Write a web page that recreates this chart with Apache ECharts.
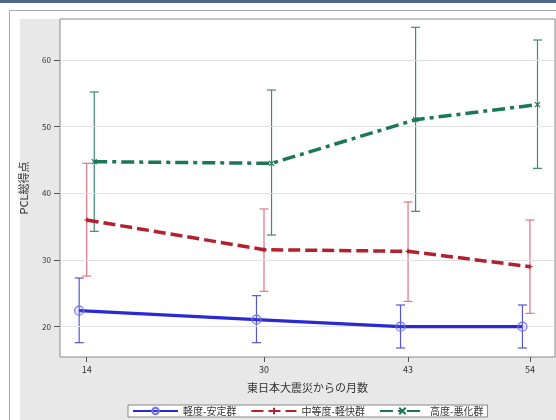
<!DOCTYPE html>
<html><head><meta charset="utf-8">
<script src="https://cdn.jsdelivr.net/npm/echarts@6/dist/echarts.min.js"></script>
<style>html,body{margin:0;padding:0;background:#fff}#c{width:556px;height:420px}</style>
</head><body><div id="c"></div>
<script>
// ---- data ----
const months = [14, 30, 43, 54];
const xTicks = [14, 30, 43, 54];
const yTicks = [20, 30, 40, 50, 60];
const groupNames = ['軽度-安定群', '中等度-軽快群', '高度-悪化群'];
const mildMean = [22.4, 21.05, 20.0, 20.0];
const mildLow  = [17.6, 17.6, 16.8, 16.8];
const mildHigh = [27.3, 24.65, 23.25, 23.25];
const modMean  = [36.0, 31.55, 31.3, 29.0];
const modLow   = [27.6, 25.3, 23.8, 22.0];
const modHigh  = [44.5, 37.65, 38.7, 36.0];
const sevMean  = [44.75, 44.5, 51.05, 53.3];
const sevLow   = [34.3, 33.75, 37.3, 43.75];
const sevHigh  = [55.2, 55.5, 64.9, 63.0];
const dodge = [-0.68, 0, 0.68]; // group offset along x (months)

// ---- build ----
const means = [mildMean, modMean, sevMean];
const lows = [mildLow, modLow, sevLow];
const highs = [mildHigh, modHigh, sevHigh];
const lineColors = ['#2a2ad4', '#b3202e', '#1b7759'];
const barColors = ['#5555da', '#e07584', '#3f8a70'];
const lineTypes = ['solid', [12, 5], [13, 5, 4, 5]];
const symbols = ['circle', 'path://M5,0L5,10M0,5L10,5', 'path://M0,0L10,10M10,0L0,10'];
const font = '"Noto Sans CJK JP", "DejaVu Sans", sans-serif';

const series = [];
for (let g = 0; g < 3; g++) {
  series.push({
    name: groupNames[g], type: 'line', z: 5,
    data: months.map((m, i) => [m + dodge[g], means[g][i]]),
    symbol: symbols[g], symbolSize: g === 0 ? 9 : 5, showSymbol: true,
    lineStyle: { color: lineColors[g], width: g === 0 ? 3.2 : 3.5, type: lineTypes[g] },
    itemStyle: g === 0
      ? { color: 'rgba(120,120,235,0.15)', borderColor: '#7373e2', borderWidth: 1.2 }
      : { color: lineColors[g], borderColor: lineColors[g], borderWidth: 1.2 },
    emphasis: { disabled: true }, animation: false
  });
  series.push({
    type: 'custom', z: 4, animation: false, silent: true,
    data: months.map((m, i) => [m + dodge[g], lows[g][i], highs[g][i]]),
    renderItem: (params, api) => {
      const lo = api.coord([api.value(0), api.value(1)]);
      const hi = api.coord([api.value(0), api.value(2)]);
      const w = 4.5;
      const st = { stroke: barColors[g], lineWidth: 1.2, fill: null };
      return { type: 'group', children: [
        { type: 'line', shape: { x1: lo[0], y1: lo[1], x2: hi[0], y2: hi[1] }, style: st },
        { type: 'line', shape: { x1: lo[0] - w, y1: lo[1], x2: lo[0] + w, y2: lo[1] }, style: st },
        { type: 'line', shape: { x1: hi[0] - w, y1: hi[1], x2: hi[0] + w, y2: hi[1] }, style: st }
      ]};
    }
  });
}
// gridlines
series.push({
  type: 'line', data: [], z: 1, silent: true,
  markLine: { silent: true, symbol: 'none', label: { show: false },
    lineStyle: { color: '#e2e2e2', width: 1, type: 'solid' },
    data: yTicks.map(v => ({ yAxis: v })) , animation: false }
});

const chart = echarts.init(document.getElementById('c'), null, { renderer: 'canvas' });
chart.setOption({
  animation: false,
  backgroundColor: '#ffffff',
  graphic: [
    { type: 'rect', z: -10, shape: { x: 0, y: 0, width: 556, height: 3 }, style: { fill: '#4d6689' } },
    { type: 'rect', z: -10, shape: { x: 9.5, y: 10.5, width: 560, height: 420 }, style: { fill: '#ffffff', stroke: '#a8a8a8', lineWidth: 1 } },
    { type: 'rect', z: -9, shape: { x: 20, y: 19, width: 540, height: 405 }, style: { fill: '#e8e8e8' } }
  ],
  grid: { left: 60, top: 19, right: 1, bottom: 63, show: true, backgroundColor: '#ffffff', borderColor: '#8a8a8a', borderWidth: 1 },
  xAxis: {
    type: 'value', min: 11.59, max: 56.26,
    name: '東日本大震災からの月数', nameLocation: 'middle', nameGap: 25,
    nameTextStyle: { fontFamily: font, fontSize: 11, color: '#333' },
    axisLine: { show: false },
    axisTick: { show: true, length: 5, lineStyle: { color: '#555' }, customValues: xTicks },
    axisLabel: { fontFamily: font, fontSize: 9, color: '#333', margin: 8, customValues: xTicks },
    splitLine: { show: false }
  },
  yAxis: {
    type: 'value', min: 15.45, max: 66.15,
    name: 'PCL総得点', nameLocation: 'middle', nameGap: 31, nameRotate: 90,
    nameTextStyle: { fontFamily: font, fontSize: 11, color: '#333' },
    axisLine: { show: false },
    axisTick: { show: true, length: 6, lineStyle: { color: '#555' }, customValues: yTicks },
    axisLabel: { fontFamily: font, fontSize: 8, color: '#333', margin: 9, customValues: yTicks },
    splitLine: { show: false }
  },
  legend: {
    left: 128, top: 405, orient: 'horizontal',
    data: groupNames,
    itemWidth: 45, itemHeight: 8, itemGap: 14,
    padding: [1, 4], borderColor: '#888', borderWidth: 1, backgroundColor: '#ffffff',
    textStyle: { fontFamily: font, fontSize: 10, color: '#333' },
    selectedMode: false
  },
  series: series
});
</script></body></html>
